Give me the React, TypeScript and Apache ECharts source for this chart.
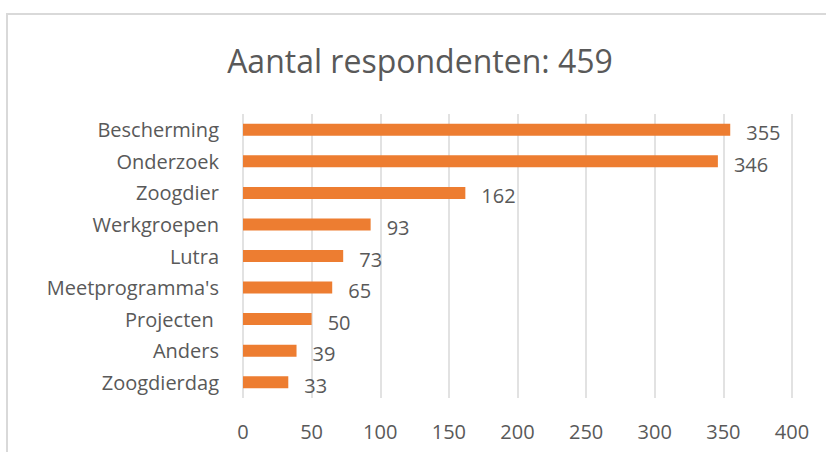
import React, { useEffect, useRef } from "react";
import * as echarts from "echarts";

const titleText = "Aantal respondenten: 459";
const categories = [
  "Bescherming",
  "Onderzoek",
  "Zoogdier",
  "Werkgroepen",
  "Lutra",
  "Meetprogramma's",
  "Projecten ",
  "Anders",
  "Zoogdierdag",
];
const values = [355, 346, 162, 93, 73, 65, 50, 39, 33];
const axisMin = 0;
const axisMax = 400;
const axisInterval = 50;

const FONT = "'Open Sans', 'Liberation Sans', sans-serif";
const TEXT = "#595959";

export default function App() {
  const ref = useRef<HTMLDivElement>(null);
  useEffect(() => {
    if (!ref.current) return;
    const chart = echarts.init(ref.current, null, { renderer: "svg" });
    chart.setOption({
      animation: false,
      backgroundColor: "#ffffff",
      textStyle: { fontFamily: FONT },
      title: {
        text: titleText,
        left: 415,
        textAlign: "center",
        top: 39,
        textStyle: { fontFamily: FONT, fontSize: 32, fontWeight: "normal", color: TEXT },
      },
      graphic: [
        {
          type: "rect",
          shape: { x: 7, y: 14, width: 900, height: 600 },
          style: { fill: "none", stroke: "#d9d9d9", lineWidth: 2 },
          silent: true,
          z: -1,
        },
      ],
      grid: { left: 243, right: 34, top: 114, bottom: 54, containLabel: false },
      xAxis: {
        type: "value",
        min: axisMin,
        max: axisMax,
        interval: axisInterval,
        axisLine: { show: false },
        axisTick: { show: false },
        splitLine: { show: true, lineStyle: { color: "#d9d9d9", width: 1.5 } },
        axisLabel: { color: TEXT, fontSize: 20, fontFamily: FONT, margin: 23 },
      },
      yAxis: {
        type: "category",
        data: categories,
        inverse: true,
        axisLine: { show: false },
        axisTick: { show: false },
        axisLabel: { color: TEXT, fontSize: 20, fontFamily: FONT, margin: 24 },
      },
      series: [
        {
          type: "bar",
          data: values,
          barWidth: 12,
          itemStyle: { color: "#ED7D31" },
          label: {
            show: true,
            position: "right",
            distance: 16,
            offset: [0, 3],
            color: TEXT,
            fontSize: 20,
            fontFamily: FONT,
          },
        },
      ],
    });
    return () => chart.dispose();
  }, []);
  return (
    <div
      ref={ref}
      style={{ position: "fixed", left: 0, top: 0, width: 826, height: 452 }}
    />
  );
}
